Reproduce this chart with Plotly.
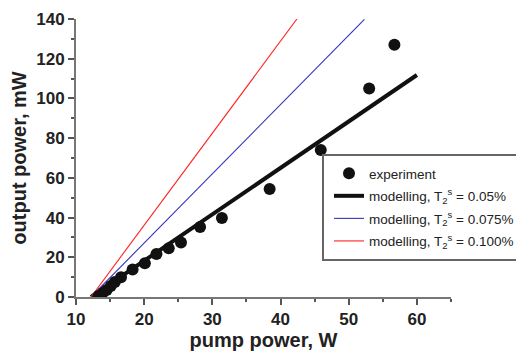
import plotly.graph_objects as go

# experimental data
exp_pump = [13.3, 13.9, 14.5, 15.1, 15.7, 16.6, 18.3, 20.1, 21.8, 23.6, 25.4, 28.2, 31.4, 38.4, 45.9, 53.0, 56.7]
exp_out = [0.5, 2.0, 3.5, 5.5, 7.5, 10.0, 13.9, 17.0, 21.6, 24.5, 27.5, 35.3, 39.8, 54.4, 74.0, 105.0, 127.0]

# modelling lines (start/end points)
m005_pump = [12.2, 60.0]
m005_out = [0.0, 111.8]
m0075_pump = [12.2, 52.3]
m0075_out = [0.0, 139.8]
m010_pump = [12.2, 42.4]
m010_out = [0.0, 140.0]

legend_names = [
    "experiment",
    "modelling, T<sub>2</sub><sup>s</sup> = 0.05%",
    "modelling, T<sub>2</sub><sup>s</sup> = 0.075%",
    "modelling, T<sub>2</sub><sup>s</sup> = 0.100%",
]

x_ticks = [10, 20, 30, 40, 50, 60]
y_ticks = [0, 20, 40, 60, 80, 100, 120, 140]

FONT = "Liberation Sans, Arial, sans-serif"
BLUE = "#3434b8"
RED = "#ff2020"
BLACK = "#111111"

fig = go.Figure()
fig.add_trace(go.Scatter(x=m005_pump, y=m005_out, mode="lines",
                         line=dict(color=BLACK, width=4), name=legend_names[1], showlegend=False))
fig.add_trace(go.Scatter(x=m0075_pump, y=m0075_out, mode="lines",
                         line=dict(color=BLUE, width=1.1), name=legend_names[2], showlegend=False))
fig.add_trace(go.Scatter(x=m010_pump, y=m010_out, mode="lines",
                         line=dict(color=RED, width=1.1), name=legend_names[3], showlegend=False))
fig.add_trace(go.Scatter(x=exp_pump, y=exp_out, mode="markers",
                         marker=dict(color=BLACK, size=12), name=legend_names[0], showlegend=False))

# legend-only entries in desired order
fig.add_trace(go.Scatter(x=[None], y=[None], mode="markers", legendgroup="g0",
                         marker=dict(color=BLACK, size=12), name=legend_names[0]))
fig.add_trace(go.Scatter(x=[None], y=[None], mode="lines", legendgroup="g1",
                         line=dict(color=BLACK, width=4), name=legend_names[1]))
fig.add_trace(go.Scatter(x=[None], y=[None], mode="lines", legendgroup="g2",
                         line=dict(color=BLUE, width=1.1), name=legend_names[2]))
fig.add_trace(go.Scatter(x=[None], y=[None], mode="lines", legendgroup="g3",
                         line=dict(color=RED, width=1.1), name=legend_names[3]))

axis_common = dict(
    showline=True, linecolor="#777777", linewidth=2, mirror=False,
    ticks="outside", ticklen=6, tickwidth=1.5, tickcolor="#555555",
    showgrid=False, zeroline=False, automargin=False,
    tickfont=dict(family=FONT, size=17, color="#222222", weight="bold"),
    title_font=dict(family=FONT, size=20, color="#222222", weight="bold"),
)

fig.update_xaxes(range=[10, 65], tickvals=x_ticks,
                 minor=dict(ticks="outside", ticklen=3, tickcolor="#555555", dtick=5, tick0=10, showgrid=False),
                 title_text="pump power, W", title_standoff=5, **axis_common)
fig.update_yaxes(range=[0, 140], tickvals=y_ticks,
                 minor=dict(ticks="outside", ticklen=3, tickcolor="#555555", dtick=10, tick0=0, showgrid=False),
                 title_text="output power, mW", title_standoff=8, **axis_common)

fig.add_shape(type="rect", xref="paper", yref="paper",
              x0=(323 - 76) / 375, x1=(540 - 76) / 375,
              y0=(297 - 260) / 278, y1=(297 - 155) / 278,
              line=dict(color="#666666", width=2), fillcolor="rgba(255,255,255,1)", layer="above")

fig.update_layout(
    width=524, height=356,
    margin=dict(l=68, r=81, t=11, b=67, autoexpand=False),
    paper_bgcolor="white", plot_bgcolor="white",
    font=dict(family=FONT, color="#222222"),
    legend=dict(x=(329 - 76) / 375, y=(297 - 158) / 278, xanchor="left", yanchor="top",
                bgcolor="rgba(0,0,0,0)", borderwidth=0,
                font=dict(family=FONT, size=13.5, color="#222222"),
                traceorder="grouped", tracegroupgap=2),
)

fig.write_html("out.html")
